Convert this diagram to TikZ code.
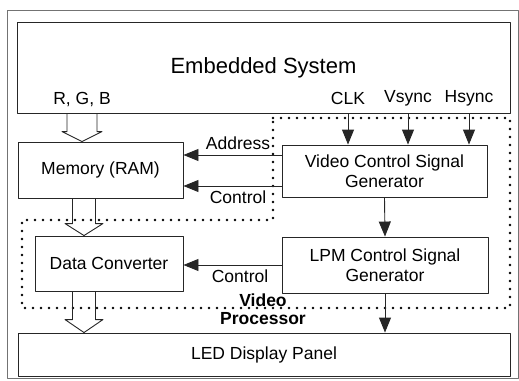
\documentclass[tikz,border=0pt]{standalone}
\usepackage{fontspec}
\setmainfont{Liberation Sans}
\usetikzlibrary{arrows.meta,calc}

\begin{document}
\begin{tikzpicture}[x=1pt,y=-1pt,line cap=round,line join=round,
    box/.style={draw=black!85,line width=0.9pt,align=center,
        font=\fontsize{17.5}{20}\selectfont},
    lbl/.style={inner sep=0pt,font=\fontsize{17.5}{20}\selectfont},
    sig/.style={draw=black!85,line width=0.9pt,
        -{Triangle[length=15pt,width=12pt]}},
    fat/.style={draw=black!85,line width=0.9pt,line cap=butt},
    vp/.style={line width=2.6pt,dash pattern=on 0pt off 8pt,line cap=round}]
\useasboundingbox (0,0) rectangle (519,380);
\draw[black!55,line width=0.8pt] (7,10) rectangle (518,378);

\node[box,minimum width=493,minimum height=91,
    font=\fontsize{22}{24}\selectfont] (emb) at (263.5,67.5) {Embedded System};
\node[box,minimum width=165,minimum height=56] (mem) at (100.5,170) {Memory (RAM)};
\node[box,minimum width=205,minimum height=52] (vcsg) at (384.5,171)
    {Video Control Signal\\Generator};
\node[box,minimum width=206,minimum height=56] (lpm) at (385,265)
    {LPM Control Signal\\Generator};
\node[box,minimum width=148,minimum height=55] (dc) at (109,263.5) {Data Converter};
\node[box,minimum width=492,minimum height=43] (led) at (264,354.5) {LED Display Panel};

\draw[vp] (273,118) -- (510,118) -- (510,308) -- (22,308) -- (22,220)
    -- (273,220) -- cycle;
\node[lbl,align=center,font=\fontsize{17.5}{18}\bfseries] (vproc) at (263,309)
    {Video\\Processor};

\node[lbl] (rgb) at (82,100) {R, G, B};
\node[lbl] (clk) at (348,98) {CLK};
\node[lbl] (vs) at (408,98) {Vsync};
\node[lbl] (hs) at (469,98) {Hsync};
\node[lbl] (addr) at (238,143) {Address};
\node[lbl] (ctla) at (238,197) {Control};
\node[lbl] (ctlb) at (240,276) {Control};

\foreach \s in {clk,vs,hs}
{
    \draw[sig] (emb.south -| \s) -- (vcsg.north -| \s);
}
\coordinate (a1) at ([yshift=16pt]vcsg.west);
\coordinate (a2) at ([yshift=-15pt]vcsg.west);
\draw[sig] (a1) -- (a1 -| mem.east);
\draw[sig] (a2) -- (a2 -| mem.east);
\draw[sig] (vcsg.south) -- (lpm.north);
\draw[sig] (lpm.south) -- (lpm.south |- led.north);
\draw[sig] (lpm.west) -- (lpm.west -| dc.east);

\coordinate (fx) at (84,0);
\foreach \a/\b/\w/\h/\l in {
    emb.south -| rgb/mem.north -| rgb/15/20/10,
    mem.south -| fx/dc.north -| fx/11.5/19/12,
    dc.south -| fx/led.north -| fx/11.5/19/13
}
{
    \draw[fat] ($(\a)+(-\w,0)$) -- ($(\b)+(-\w,-\l)$) -- ($(\b)+(-\h,-\l)$)
        -- (\b) -- ($(\b)+(\h,-\l)$) -- ($(\b)+(\w,-\l)$) -- ($(\a)+(\w,0)$);
}
\end{tikzpicture}
\end{document}
